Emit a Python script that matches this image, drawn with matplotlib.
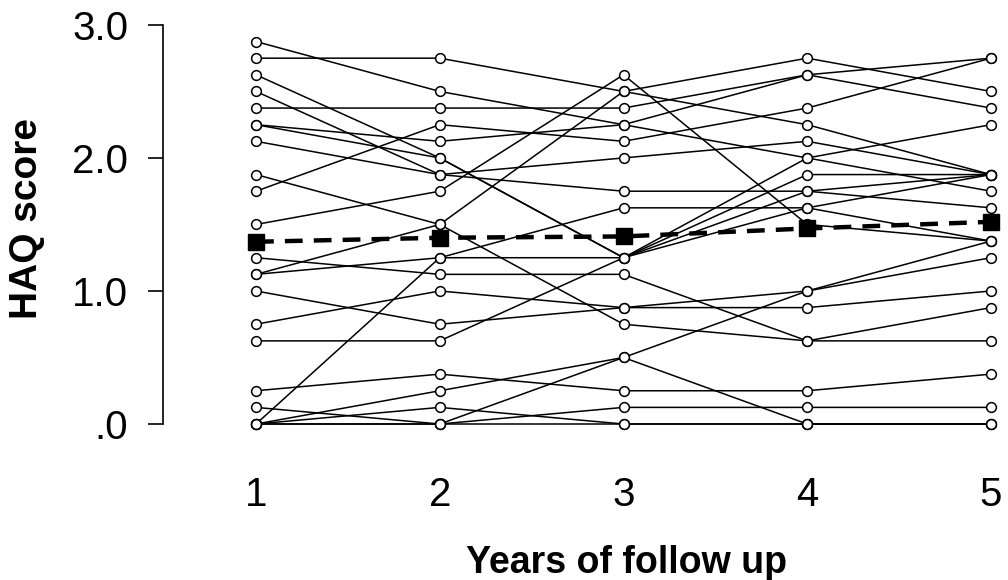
import matplotlib
matplotlib.use("Agg")
import matplotlib.pyplot as plt

# follow-up years
years = [1, 2, 3, 4, 5]

# individual HAQ scores per patient (year 1..5)
s01 = [2.875, 2.5, 2.25, 2.0, 2.25]
s02 = [2.75, 2.75, 2.5, 2.25, 1.875]
s03 = [2.625, 2.0, 1.25, 2.0, 1.75]
s04 = [2.5, 1.875, 1.75, 1.75, 1.875]
s05 = [2.375, 2.375, 2.375, 2.625, 2.75]
s06 = [2.25, 2.125, 2.25, 2.625, 2.375]
s07 = [2.25, 2.0, 1.25, 1.75, 1.625]
s08 = [2.125, 1.875, 2.0, 2.125, 1.875]
s09 = [1.875, 1.5, 0.75, 0.625, 0.625]
s10 = [1.75, 2.25, 2.125, 2.375, 2.75]
s11 = [1.5, 1.75, 2.625, 1.5, 1.375]
s12 = [1.25, 1.125, 1.125, 0.625, 0.875]
s13 = [1.125, 1.5, 2.5, 2.75, 2.5]
s14 = [1.125, 1.25, 1.25, 1.625, 1.375]
s15 = [1.0, 0.75, 0.875, 0.875, 1.0]
s16 = [0.75, 1.0, 0.875, 1.0, 1.375]
s17 = [0.625, 0.625, 1.25, 1.875, 1.875]
s18 = [0.25, 0.375, 0.25, 0.25, 0.375]
s19 = [0.125, 0.0, 0.125, 0.125, 0.125]
s20 = [0.0, 1.25, 1.625, 1.625, 1.875]
s21 = [0.0, 0.25, 0.5, 1.0, 1.25]
s22 = [0.0, 0.0, 0.5, 0.0, 0.0]
s23 = [0.0, 0.125, 0.0, 0.0, 0.0]
s24 = [0.0, 0.0, 0.0, 0.0, 0.0]
patients = [s01, s02, s03, s04, s05, s06, s07, s08, s09, s10, s11, s12,
            s13, s14, s15, s16, s17, s18, s19, s20, s21, s22, s23, s24]

# group mean per year
mean_haq = [1.37, 1.40, 1.41, 1.47, 1.52]

yticks = [0, 1, 2, 3]
ytick_labels = [".0", "1.0", "2.0", "3.0"]

plt.rcParams['font.family'] = ['Liberation Sans', 'DejaVu Sans']

fig = plt.figure(figsize=(10.08, 5.8), dpi=100)
# left spine sits at x ~163 px, y=0..3 spans 424..25 px
ax = fig.add_axes([163 / 1008, 0.246, 845 / 1008, 0.734])

for p in patients:
    ax.plot(years, p, color="black", linewidth=1.1, marker="o",
            markersize=7, markerfacecolor="white", markeredgecolor="black",
            markeredgewidth=1.1, zorder=2)

ax.plot(years, mean_haq, color="black", linewidth=3.2, linestyle=(0, (4, 2.5)),
        marker="s", markersize=11, markerfacecolor="black", zorder=3)

ax.set_xlim(1 - 93 / 183.75, 5 + 17 / 183.75)
ax.set_ylim(-0.1, 3.1)

for side in ["top", "right", "bottom"]:
    ax.spines[side].set_visible(False)
ax.spines["left"].set_bounds(0, 3)
ax.spines["left"].set_linewidth(1.2)

ax.set_yticks(yticks)
ax.set_yticklabels(ytick_labels)
ax.set_xticks(years)
ax.set_xticklabels([str(y) for y in years])
ax.tick_params(axis="y", direction="out", length=11, width=1.2, pad=14, labelsize=29)
ax.tick_params(axis="x", length=0, pad=28, labelsize=29)

ax.set_xlabel("Years of follow up", fontsize=27, fontweight="bold")
ax.set_ylabel("HAQ score", fontsize=28, fontweight="bold")
ax.xaxis.set_label_coords(0.548, -0.253)
ax.yaxis.set_label_coords(-0.14, 0.515)

fig.savefig("out.png", dpi=100)
